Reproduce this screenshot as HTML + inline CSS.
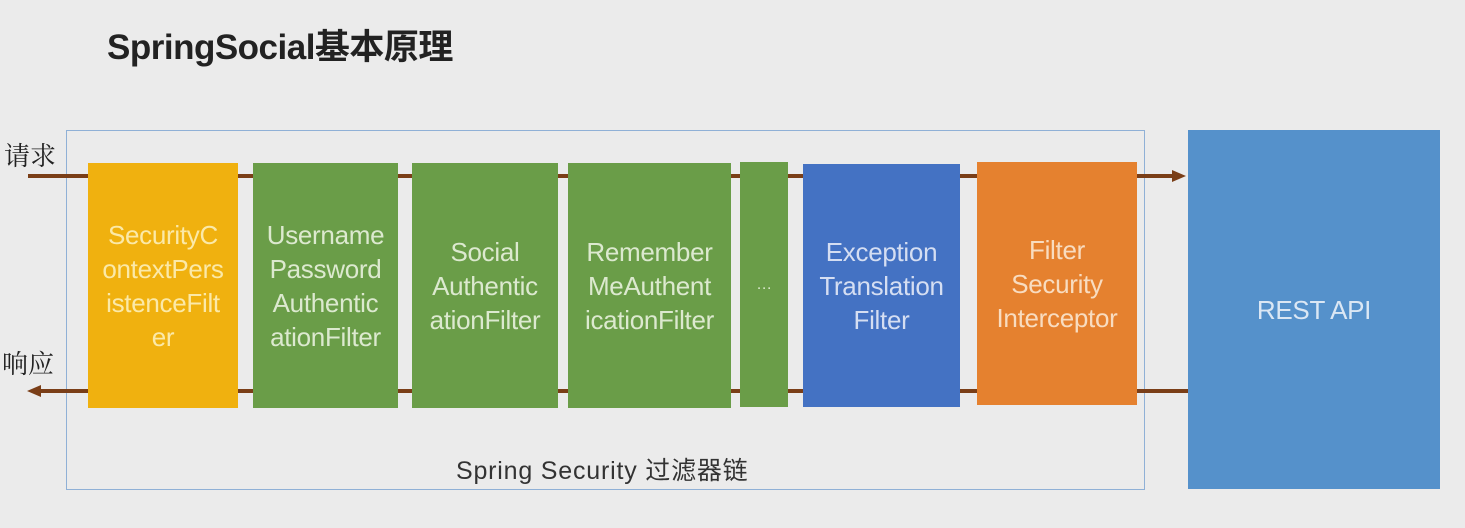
<!DOCTYPE html>
<html><head><meta charset="utf-8"><style>
body{margin:0;width:1465px;height:528px;background:#ebebeb;position:relative;overflow:hidden;font-family:"Liberation Sans","Noto Sans CJK SC",sans-serif}
.a{position:absolute}
.b{position:absolute;display:flex;align-items:center;justify-content:center;text-align:center;font-size:26px;line-height:34px;letter-spacing:-0.3px}
.l{position:absolute;height:4px;background:#7a3e17}
</style></head><body>
<div class="a" style="left:107px;top:19px;font-size:35px;font-weight:bold;color:#222;letter-spacing:-0.5px">SpringSocial基本原理</div>
<div class="a" style="left:66px;top:130px;width:1077px;height:358px;border:1px solid #8fb0d6"></div>
<div class="l" style="left:28px;top:174px;width:1150px"></div>
<div class="a" style="left:1172px;top:170px;border-left:14px solid #7a3e17;border-top:6px solid transparent;border-bottom:6px solid transparent"></div>
<div class="l" style="left:40px;top:389px;width:1150px"></div>
<div class="a" style="left:27px;top:385px;border-right:14px solid #7a3e17;border-top:6px solid transparent;border-bottom:6px solid transparent"></div>
<div class="a" style="left:4px;top:136px;font-size:26px;color:#222;font-family:'Noto Serif CJK SC',serif">请求</div>
<div class="a" style="left:2px;top:344px;font-size:26px;color:#222;font-family:'Noto Serif CJK SC',serif">响应</div>
<div class="b" style="left:88px;top:163px;width:150px;height:245px;background:#f0b10f;color:#fbe9a8">SecurityC<br>ontextPers<br>istenceFilt<br>er</div>
<div class="b" style="left:253px;top:163px;width:145px;height:245px;background:#6a9d48;color:#dce9cf">Username<br>Password<br>Authentic<br>ationFilter</div>
<div class="b" style="left:412px;top:163px;width:146px;height:245px;background:#6a9d48;color:#dce9cf">Social<br>Authentic<br>ationFilter</div>
<div class="b" style="left:568px;top:163px;width:163px;height:245px;background:#6a9d48;color:#dce9cf">Remember<br>MeAuthent<br>icationFilter</div>
<div class="b" style="left:740px;top:162px;width:48px;height:245px;background:#6a9d48;color:#dce9cf;font-size:16px">…</div>
<div class="b" style="left:803px;top:164px;width:157px;height:243px;background:#4472c3;color:#d5def2">Exception<br>Translation<br>Filter</div>
<div class="b" style="left:977px;top:162px;width:160px;height:243px;background:#e5812f;color:#f8dcc0">Filter<br>Security<br>Interceptor</div>
<div class="b" style="left:1188px;top:130px;width:252px;height:359px;background:#5591cb;color:#dbe7f4">REST API</div>
<div class="a" style="left:456px;top:451px;font-size:25px;color:#333;letter-spacing:0.8px">Spring Security 过滤器链</div>
</body></html>
